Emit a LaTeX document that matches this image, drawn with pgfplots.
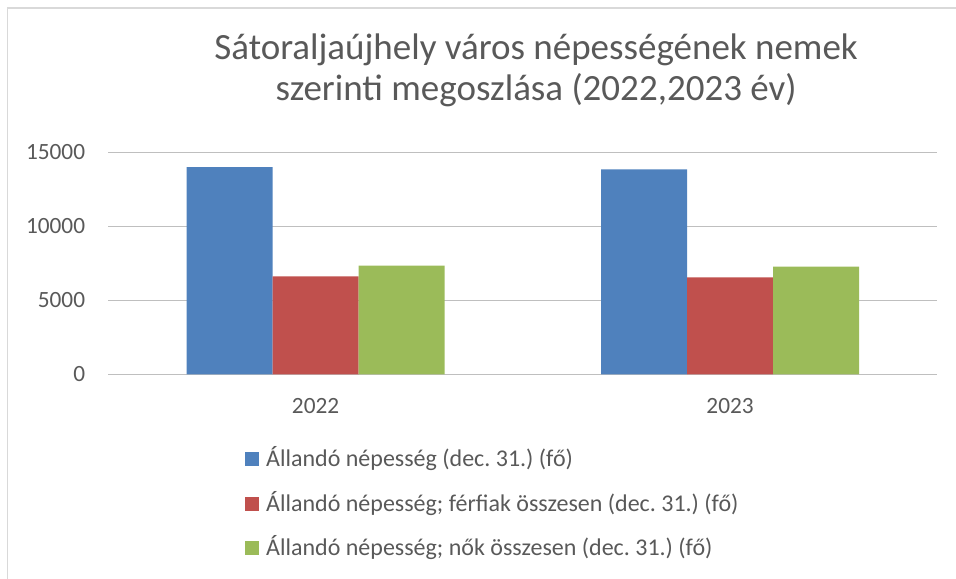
\documentclass[border=0pt]{standalone}
\usepackage{pgfplots}
\pgfplotsset{compat=1.18}
\usepackage{fontspec}
\setmainfont{Carlito}
\frenchspacing
\definecolor{txt}{HTML}{595959}
\definecolor{grid}{HTML}{D9D9D9}
\definecolor{cblue}{HTML}{4F81BD}
\definecolor{cred}{HTML}{C0504D}
\definecolor{cgreen}{HTML}{9BBB59}
\begin{document}
\begin{tikzpicture}[x=1bp,y=1bp]
\path[use as bounding box] (0,0) rectangle (956,579);
\draw[grid, line width=1.5bp] (956,571) -- (7.5,571) -- (7.5,0);
\begin{axis}[
  at={(108.3bp,204.7bp)}, anchor=south west,
  scale only axis, width=829bp, height=222bp,
  ybar=0pt, bar width=86bp,
  xmin=-0.5, xmax=1.5, ymin=0, ymax=15000,
  xtick={0,1}, xticklabels={2022,2023},
  ytick={0,5000,10000,15000},
  axis line style={draw=none},
  major tick length=0pt,
  xtick style={draw=none}, ytick style={draw=none},
  xmajorgrids=false,
  ymajorgrids, grid style={grid, line width=1.5bp},
  scaled y ticks=false,
  /pgf/number format/assume math mode=true,
  /pgf/number format/1000 sep={},
  tick label style={font=\fontsize{23.3bp}{27bp}\selectfont, text=txt},
  yticklabel style={anchor=east, inner sep=0pt, xshift=-23bp},
  xticklabel style={anchor=center, inner sep=0pt, yshift=-32bp},
  title={Sátoraljaújhely város népességének nemek\\szerinti megoszlása (2022,2023 év)},
  title style={at={(axis description cs:0.516,1.34)}, anchor=center, align=center,
     font=\fontsize{37bp}{41bp}\selectfont, text=txt},
  legend style={at={(axis description cs:0.1649,-0.3396)}, anchor=north west,
     draw=none, fill=none, inner sep=0pt,
     font=\fontsize{24bp}{28bp}\selectfont, text=txt,
     row sep=22.2bp,
     nodes={inner sep=0pt, text height=17bp, text depth=5bp}},
  legend cell align=left,
  legend image code/.code={\fill[#1] (0bp,-5.5bp) rectangle (14bp,8.5bp);},
]
\addplot[fill=cblue, draw=none] coordinates {(0,13990) (1,13850)};
\addplot[fill=cred, draw=none] coordinates {(0,6620) (1,6555)};
\addplot[fill=cgreen, draw=none] coordinates {(0,7340) (1,7270)};
\legend{\hspace{7bp}Állandó népesség (dec. 31.) (fő),\hspace{7bp}Állandó népesség; férfiak összesen (dec. 31.) (fő),\hspace{7bp}Állandó népesség; nők összesen (dec. 31.) (fő)}
\end{axis}
\end{tikzpicture}
\end{document}
